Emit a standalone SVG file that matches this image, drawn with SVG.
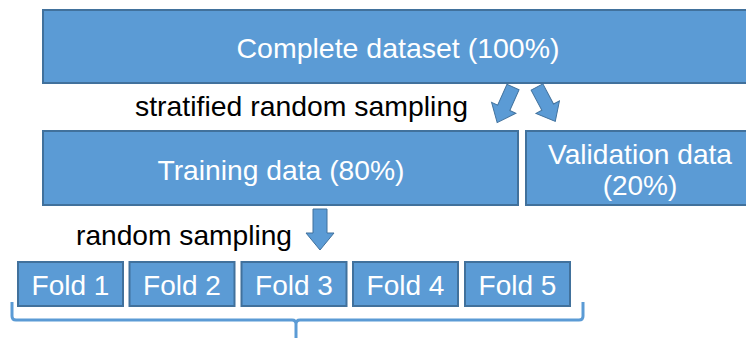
<svg xmlns="http://www.w3.org/2000/svg" width="746" height="338" viewBox="0 0 746 338">
<style>
.box{fill:#5B9BD5;stroke:#41719C;stroke-width:2}
.wt{fill:#fff;font-family:"Liberation Sans",Arial,sans-serif;font-size:28px;text-anchor:middle}
.bt{fill:#000;font-family:"Liberation Sans",Arial,sans-serif;font-size:28px}
.arr{fill:#5B9BD5;stroke:#41719C;stroke-width:1}
.brace{fill:none;stroke:#5B9BD5;stroke-width:3}
</style>
<defs>
<path id="darrow" d="M-7,0 H7 V24 H14 L0,41 L-14,24 H-7 Z"/>
</defs>
<rect width="746" height="338" fill="#fff"/>
<g id="complete"><rect class="box" x="43" y="10" width="710" height="73"/><text class="wt" x="398" y="58" textLength="323" lengthAdjust="spacingAndGlyphs">Complete dataset (100%)</text></g>
<g id="training"><rect class="box" x="43" y="131" width="475" height="74"/><text class="wt" x="281" y="180" textLength="247" lengthAdjust="spacingAndGlyphs">Training data (80%)</text></g>
<g id="validation"><rect class="box" x="526" y="131" width="226" height="74"/><text class="wt" x="640" y="164" textLength="184" lengthAdjust="spacingAndGlyphs">Validation data</text><text class="wt" x="640" y="195">(20%)</text></g>
<g id="fold1"><rect class="box" x="18" y="262" width="105" height="44"/><text class="wt" x="70.5" y="295">Fold 1</text></g>
<g id="fold2"><rect class="box" x="129.5" y="262" width="105" height="44"/><text class="wt" x="182" y="295">Fold 2</text></g>
<g id="fold3"><rect class="box" x="241.5" y="262" width="105" height="44"/><text class="wt" x="294" y="295">Fold 3</text></g>
<g id="fold4"><rect class="box" x="353" y="262" width="105" height="44"/><text class="wt" x="405.5" y="295">Fold 4</text></g>
<g id="fold5"><rect class="box" x="465" y="262" width="105" height="44"/><text class="wt" x="517.5" y="295">Fold 5</text></g>
<g id="connectors">
<use href="#darrow" class="arr" transform="translate(513,87) rotate(24) scale(0.95)"/>
<use href="#darrow" class="arr" transform="translate(537,87) rotate(-28) scale(0.95)"/>
<use href="#darrow" class="arr" transform="translate(320,209)"/>
<path class="brace" d="M12,302 V316 Q12,320 16,320 H292 Q296,320 296,324 V338 M296,324 Q296,320 300,320 H579 Q583,320 583,316 V302"/>
</g>
<text class="bt" x="135" y="116" textLength="333" lengthAdjust="spacingAndGlyphs">stratified random sampling</text>
<text class="bt" x="76" y="245" textLength="216" lengthAdjust="spacingAndGlyphs">random sampling</text>
</svg>
